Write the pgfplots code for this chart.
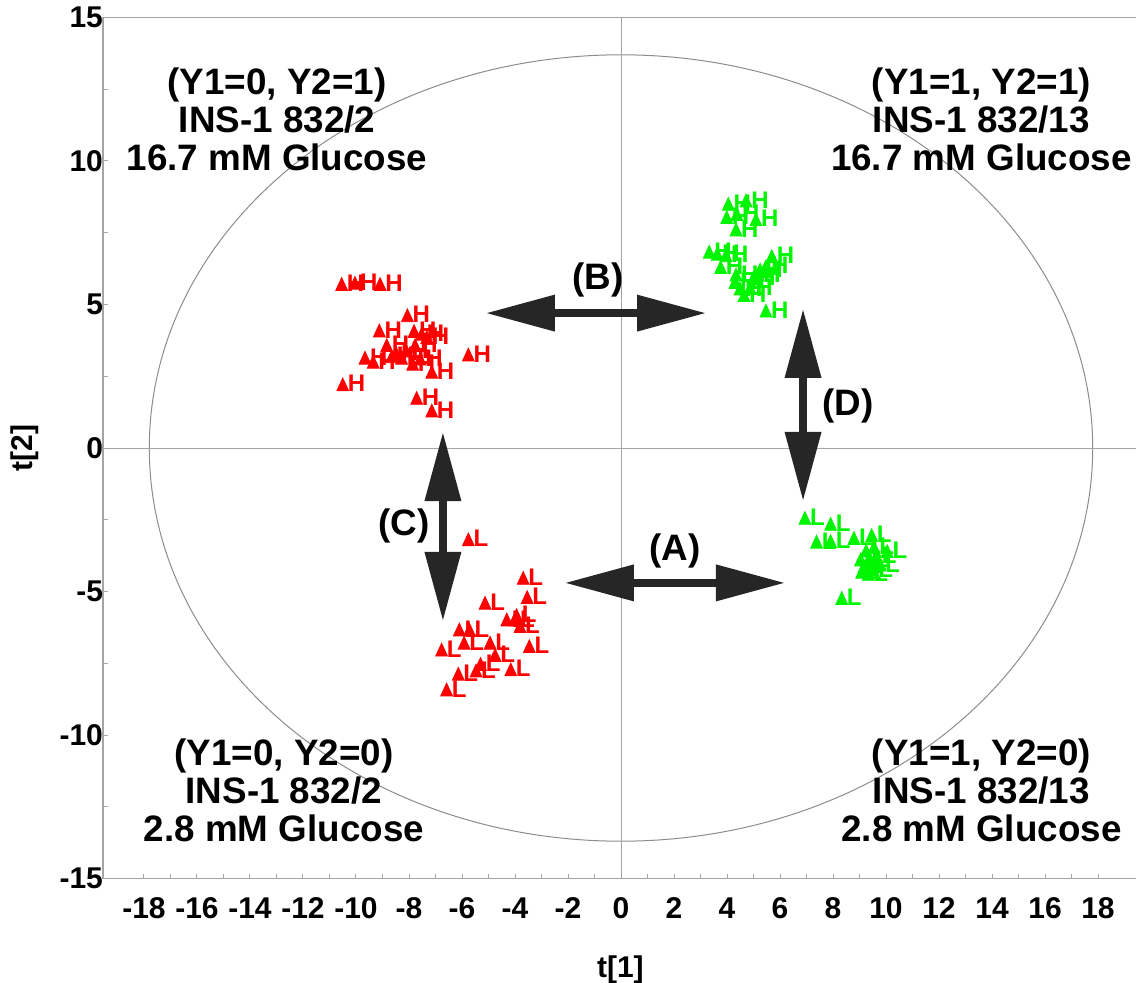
\documentclass[border=0pt]{standalone}
\usepackage{pgfplots}
\pgfplotsset{compat=1.18}
\usepackage{pgfplotstable}
\usepackage{fontspec}
\setmainfont{Liberation Sans}
\usetikzlibrary{arrows.meta}

\definecolor{axgray}{RGB}{165,165,165}
\definecolor{ellgray}{RGB}{140,140,140}
\definecolor{arrowgray}{RGB}{38,38,38}
\definecolor{ptred}{RGB}{255,0,0}
\definecolor{ptgreen}{RGB}{0,245,0}

% score coordinates t[1], t[2] per class
\pgfplotstableread{
x y
-10.54 5.64
-10.04 5.68
-9.09 5.64
-8.06 4.55
-9.12 4.02
-7.81 4.00
-7.52 3.90
-8.84 3.51
-8.49 3.24
-8.11 3.32
-7.77 3.51
-9.66 3.07
-9.35 2.93
-7.86 2.86
-7.58 3.04
-7.14 2.58
-5.76 3.18
-10.50 2.14
-7.71 1.67
-7.14 1.23
-8.65 3.12
-7.33 3.79
-8.28 3.07
}\redH

\pgfplotstableread{
x y
-5.76 -3.26
-3.69 -4.60
-3.54 -5.27
-5.13 -5.47
-4.31 -6.05
-3.94 -5.90
-3.81 -6.28
-6.10 -6.40
-5.72 -6.40
-5.92 -6.86
-4.94 -6.86
-3.46 -6.98
-6.77 -7.10
-4.75 -7.29
-5.30 -7.60
-5.47 -7.83
-4.16 -7.79
-6.14 -7.94
-6.58 -8.49
-4.00 -6.05
}\redL

\pgfplotstableread{
x y
4.05 8.43
4.72 8.55
3.99 7.97
4.37 8.08
5.09 7.89
4.34 7.54
3.33 6.76
3.63 6.69
3.96 6.64
5.69 6.61
3.76 6.23
5.47 6.26
4.34 5.97
5.18 5.97
4.30 5.71
4.49 5.48
4.87 5.51
4.64 5.25
5.47 4.71
4.99 5.85
5.25 6.14
}\greenH

\pgfplotstableread{
x y
6.94 -2.51
7.91 -2.72
7.38 -3.34
7.91 -3.32
8.79 -3.21
9.46 -3.11
9.25 -3.65
9.55 -3.53
10.05 -3.67
9.04 -3.96
9.40 -3.96
9.77 -4.14
9.17 -4.19
9.52 -4.31
9.08 -4.39
9.33 -4.46
8.33 -5.30
9.65 -3.84
9.28 -4.08
}\greenL

\begin{document}
\begin{tikzpicture}[
  bigtext/.style={font=\fontsize{18.4}{19}\selectfont\bfseries, align=center},
  dblarrow/.style={arrowgray, line width=4pt,
    {Triangle[length=34pt,width=18.5pt,line width=0pt]}-{Triangle[length=34pt,width=18.5pt,line width=0pt]}}
]
\begin{axis}[
  x=13.25pt, y=14.35pt,
  xmin=-19.547, xmax=19.5, ymin=-15, ymax=15,
  clip=false,
  axis line style={axgray, line width=0.6pt},
  tick pos=left,
  tick align=inside,
  xtick={-18,-16,...,18},
  xticklabels={-18,-16,-14,-12,-10,-8,-6,-4,-2,0,2,4,6,8,10,12,14,16,18},
  minor x tick num=1,
  ytick={-15,-10,...,15},
  yticklabels={-15,-10,-5,0,5,10,15},
  minor y tick num=1,
  major tick length=2.5pt, minor tick length=2.5pt,
  every tick/.style={axgray, line width=0.5pt},
  ticklabel style={font=\fontsize{15}{18}\selectfont\bfseries},
  xticklabel style={yshift=-6pt},
  yticklabel style={xshift=3.5pt},
  xlabel={t[1]},
  ylabel={t[2]},
  xlabel style={at={(axis description cs:0.5,-0.1056)}, anchor=center,
    font=\fontsize{15}{18}\selectfont\bfseries},
  ylabel style={at={(axis description cs:-0.0754,0.5)}, anchor=center,
    font=\fontsize{15}{18}\selectfont\bfseries},
  mlabel/.style={
    only marks, mark=triangle*, mark size=3.4pt,
    mark options={yscale=1.25},
    nodes near coords={#1},
    every node near coord/.append style={anchor=base west, inner sep=0pt,
      xshift=2.4pt, yshift=-2.7pt, font=\fontsize{12}{12}\selectfont\bfseries}
  },
]
% Hotelling ellipse and origin lines
\draw[ellgray, line width=0.5pt] (axis cs:0,0) ellipse [x radius=17.8, y radius=13.7];
\draw[axgray, line width=0.5pt] (axis cs:0,-15) -- (axis cs:0,15);
\draw[axgray, line width=0.5pt] (axis cs:-19.547,0) -- (axis cs:19.5,0);

\addplot[color=ptred, mlabel=H] table {\redH};
\addplot[color=ptred, mlabel=L] table {\redL};
\addplot[color=ptgreen, mlabel=H] table {\greenH};
\addplot[color=ptgreen, mlabel=L] table {\greenL};

% class contrasts
\draw[dblarrow] (axis cs:-5.06,4.70) -- (axis cs:3.17,4.70);
\draw[dblarrow] (axis cs:-2.08,-4.70) -- (axis cs:6.15,-4.70);
\draw[dblarrow] (axis cs:-6.72,0.52) -- (axis cs:-6.72,-5.99);
\draw[dblarrow] (axis cs:6.87,4.81) -- (axis cs:6.87,-1.81);

\node[bigtext] at (axis cs:-0.87,5.85) {(B)};
\node[bigtext] at (axis cs:2.04,-3.59) {(A)};
\node[bigtext] at (axis cs:-8.19,-2.72) {(C)};
\node[bigtext] at (axis cs:8.57,1.46) {(D)};

\node[bigtext] at (axis cs:-12.98,11.46) {(Y1=0, Y2=1)\\INS-1 832/2\\16.7 mM Glucose};
\node[bigtext] at (axis cs:13.6,11.46) {(Y1=1, Y2=1)\\INS-1 832/13\\16.7 mM Glucose};
\node[bigtext] at (axis cs:-12.72,-11.92) {(Y1=0, Y2=0)\\INS-1 832/2\\2.8 mM Glucose};
\node[bigtext] at (axis cs:13.6,-11.92) {(Y1=1, Y2=0)\\INS-1 832/13\\2.8 mM Glucose};

\coordinate (bbNW) at (axis cs:-23.434,15.61);
\coordinate (bbSE) at (axis cs:19.434,-18.64);
\end{axis}
\pgfresetboundingbox
\path[use as bounding box] (bbNW) rectangle (bbSE);
\end{tikzpicture}
\end{document}
